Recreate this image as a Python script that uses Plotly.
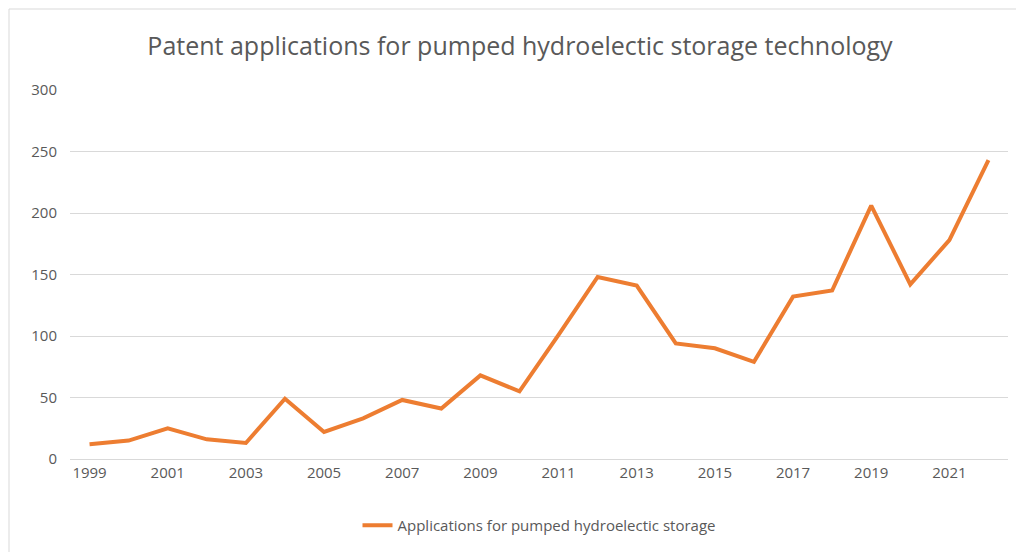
import plotly.graph_objects as go

years = list(range(1999, 2023))
applications = [12, 15, 25, 16, 13, 49, 22, 33, 48, 41, 68, 55, 101, 148, 141, 94, 90, 79, 132, 137, 206, 142, 178, 243]
series_name = "Applications for pumped hydroelectic storage"
title = "Patent applications for pumped hydroelectic storage technology"

fig = go.Figure(go.Scatter(x=years, y=applications, mode="lines", name=series_name,
                           line=dict(color="#ED7D31", width=4)))
fig.update_layout(
    width=1024, height=552,
    margin=dict(l=62, r=24, t=82, b=101),
    paper_bgcolor="white", plot_bgcolor="white",
    font=dict(family="Open Sans, Liberation Sans", color="#595959", size=15),
    title=dict(text=title, x=0.5, xanchor="center", y=0.93, yanchor="middle",
               font=dict(size=25, color="#595959")),
    showlegend=True,
    legend=dict(orientation="h", x=0.5, xanchor="center", y=-0.18, yanchor="middle",
                font=dict(size=15)),
    xaxis=dict(range=[1998.5, 2022.5], tickmode="array", tickvals=years[::2], automargin=False,
               showgrid=False, showline=True, linecolor="#D9D9D9", ticks="", zeroline=False),
    yaxis=dict(range=[0, 300], dtick=50, showgrid=True, gridcolor="#D9D9D9", automargin=False,
               zeroline=False, showline=False, ticks="", ticklabelstandoff=12),
    shapes=[dict(type="rect", xref="paper", yref="paper", x0=-61/938, x1=1+23/938,
                 y0=-100/369, y1=1+81/369, line=dict(color="#D9D9D9", width=1))],
)
fig.write_html("out.html")
